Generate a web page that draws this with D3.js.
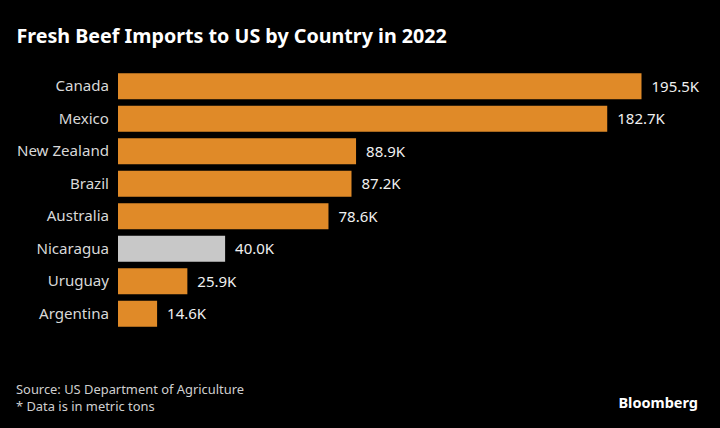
<!DOCTYPE html>
<html><head><meta charset="utf-8">
<script src="https://cdn.jsdelivr.net/npm/d3@7"></script>
<style>
html,body{margin:0;padding:0;background:#000;}
svg{display:block;}
</style></head>
<body>
<script>
const categories = ["Canada","Mexico","New Zealand","Brazil","Australia","Nicaragua","Uruguay","Argentina"];
const values = [195.5,182.7,88.9,87.2,78.6,40.0,25.9,14.6];
const highlight = ["Nicaragua"];
const valueLabels = ["195.5K","182.7K","88.9K","87.2K","78.6K","40.0K","25.9K","14.6K"];

const W=720,H=428;
const svg=d3.select("body").append("svg").attr("width",W).attr("height",H).style("background","#000");
const font="'Noto Sans', sans-serif";

svg.append("text").attr("x",16.5).attr("y",43).text("Fresh Beef Imports to US by Country in 2022")
  .attr("fill","#fff").attr("font-family",font).attr("font-weight","bold").attr("font-size",19.7);

const x=d3.scaleLinear().domain([0,195.5]).range([118,641.5]);
const y=d3.scaleBand().domain(categories).range([70,330]).paddingInner(0.2).paddingOuter(0.1);

const data=categories.map((c,i)=>({c,v:values[i],l:valueLabels[i]}));

svg.selectAll("rect.bar").data(data).join("rect").attr("class","bar")
  .attr("x",x(0)).attr("y",d=>y(d.c)).attr("width",d=>x(d.v)-x(0)).attr("height",y.bandwidth())
  .attr("fill",d=>highlight.includes(d.c)?"#c8c8c8":"#e08a28");

const yAxis=d3.axisLeft(y).tickSize(0).tickPadding(9);
const g=svg.append("g").attr("transform",`translate(${x(0)},0)`).call(yAxis);
g.select(".domain").remove();
g.selectAll("text").attr("fill","#d8d8d8").attr("font-family",font).attr("font-size",15.1);

svg.selectAll("text.val").data(data).join("text").attr("class","val")
  .attr("x",d=>x(d.v)+10).attr("y",d=>y(d.c)+y.bandwidth()/2).attr("dy","0.35em")
  .text(d=>d.l).attr("fill","#f0f0f0").attr("font-family",font).attr("font-size",15);

svg.append("text").attr("x",16).attr("y",394).text("Source: US Department of Agriculture")
  .attr("fill","#cfcfcf").attr("font-family",font).attr("font-size",12.9);
svg.append("text").attr("x",16).attr("y",411).text("* Data is in metric tons")
  .attr("fill","#cfcfcf").attr("font-family",font).attr("font-size",12.9);
svg.append("text").attr("x",698).attr("y",408).attr("text-anchor","end").text("Bloomberg")
  .attr("fill","#fff").attr("font-family",font).attr("font-weight","bold").attr("font-size",14.5);
</script>
</body></html>
